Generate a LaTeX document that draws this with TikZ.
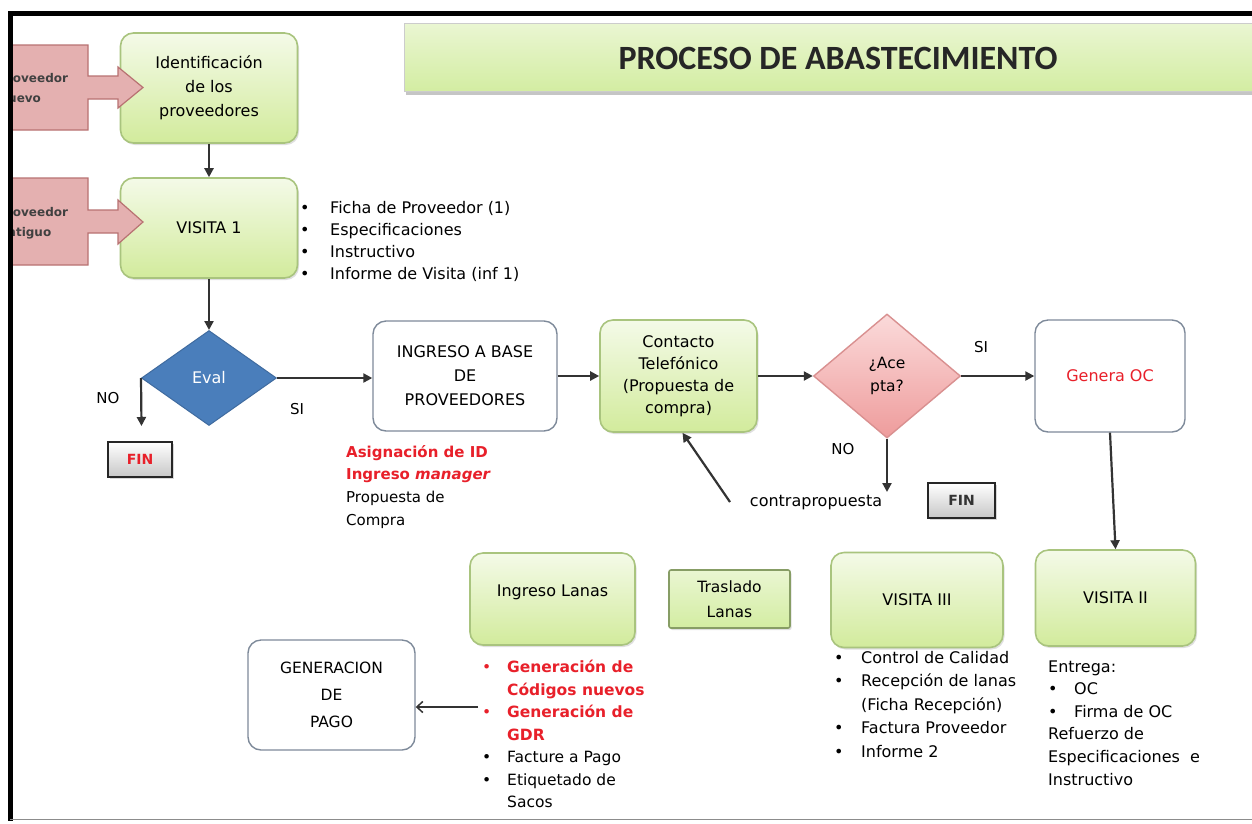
\documentclass[tikz,border=0pt]{standalone}
\usepackage{fontspec}
\setmainfont{DejaVu Sans}
\newfontfamily\titlefont{Carlito}
\usetikzlibrary{shapes.geometric,arrows.meta,shadows}

\definecolor{gTop}{HTML}{F4FAE8}
\definecolor{gBot}{HTML}{D2EB9C}
\definecolor{gLine}{HTML}{A9C47E}
\definecolor{tTop}{HTML}{EAF6D2}
\definecolor{tBot}{HTML}{D3EDA2}
\definecolor{boxLine}{HTML}{7E8A9A}
\definecolor{evalBlue}{HTML}{4A7EBB}
\definecolor{pinkTop}{HTML}{FBDADA}
\definecolor{pinkBot}{HTML}{EE9C9C}
\definecolor{pinkLine}{HTML}{D99090}
\definecolor{roseFill}{HTML}{E4B0B0}
\definecolor{roseLine}{HTML}{B87272}
\definecolor{redTxt}{HTML}{E8202A}
\definecolor{arrowGray}{HTML}{333333}

\newcommand\txtfs{\fontsize{16}{24}\selectfont}

\tikzset{
  greenbox/.style={draw=gLine, line width=1.6pt, rounded corners=13pt,
    top color=gTop, bottom color=gBot, align=center, inner sep=2pt,
    font=\txtfs, drop shadow={shadow xshift=1.5pt, shadow yshift=-2pt, opacity=0.25}},
  whitebox/.style={draw=boxLine, line width=1.4pt, rounded corners=13pt,
    fill=white, align=center, inner sep=2pt, font=\txtfs},
  trasbox/.style={draw=gLine!80!black, line width=1.6pt, rounded corners=2pt,
    top color=tTop, bottom color=tBot, align=center, inner sep=2pt,
    font=\fontsize{15.5}{25}\selectfont,
    drop shadow={shadow xshift=1.5pt, shadow yshift=-2pt, opacity=0.25}},
  titlebox/.style={draw=black!20, line width=1pt, top color=tTop, bottom color=tBot,
    drop shadow={shadow xshift=1pt, shadow yshift=-3pt, opacity=0.45}},
  evaldiamond/.style={diamond, fill=evalBlue, draw=evalBlue!85!black, line width=1pt,
    text=white, inner sep=0pt, font=\txtfs},
  acepdiamond/.style={diamond, top color=pinkTop, bottom color=pinkBot, draw=pinkLine,
    line width=1.4pt, inner sep=0pt, align=center, font=\fontsize{15.5}{23}\selectfont},
  finbox/.style={draw=black!85, line width=2pt, top color=white, bottom color=black!22,
    font=\fontsize{14}{16}\selectfont\bfseries,
    drop shadow={shadow xshift=1.5pt, shadow yshift=-1.5pt, opacity=0.3}},
  pinkarrow/.style={fill=roseFill, draw=roseLine, line width=1.2pt},
  lbl/.style={font=\fontsize{15}{18}\selectfont, inner sep=0pt},
  notes/.style={anchor=north west, inner sep=0pt},
  conn/.style={draw=arrowGray, line width=2.2pt, -{Triangle[length=9pt,width=9pt]}},
  thinconn/.style={draw=arrowGray, line width=1.5pt, -{Straight Barb[length=6pt,width=11pt]}},
}

\begin{document}
\begin{tikzpicture}[x=1pt, y=-1pt]
\useasboundingbox (0,0) rectangle (1252,823);
\fill[white] (0,0) rectangle (1252,823);

% title banner
\node[titlebox, minimum width=862, minimum height=68, anchor=north west] (title) at (404,23) {};
\node[font=\titlefont\bfseries\fontsize{34}{40}\selectfont, text=black!85] (titletext) at (838,58) {PROCESO DE ABASTECIMIENTO};

% upper column
\node[greenbox, minimum width=177, minimum height=110] (ident) at (209,88) {Identificación\\de los\\proveedores};
\node[greenbox, minimum width=177, minimum height=100] (visita1) at (209,228) {VISITA 1};
\node[notes, font=\fontsize{16}{22}\selectfont] (v1notes) at (300,198) {%
  \begin{tabular}{@{}p{30pt}@{}l@{}}
  \textbullet & Ficha de Proveedor (1)\\
  \textbullet & Especificaciones\\
  \textbullet & Instructivo\\
  \textbullet & Informe de Visita (inf 1)
  \end{tabular}};

% evaluation
\node[evaldiamond, minimum width=135, minimum height=95] (eval) at (209,378) {Eval};
\node[finbox, minimum width=64, minimum height=35, text=redTxt] (fin1) at (140,459.5) {FIN};
\coordinate (noEval) at (141.5,426);
\node[lbl] (noA) at (108,398) {NO};
\node[lbl] (siA) at (297,409) {SI};

% middle row
\node[whitebox, minimum width=184, minimum height=110] (ingreso) at (465,376) {INGRESO A BASE\\DE\\PROVEEDORES};
\node[notes, font=\fontsize{15}{22.7}\selectfont] (ingnotes) at (346,441) {%
  \begin{tabular}{@{}l@{}}
  \textcolor{redTxt}{\bfseries Asignación de ID}\\
  \textcolor{redTxt}{\bfseries Ingreso \itshape manager}\\
  Propuesta de\\
  Compra
  \end{tabular}};
\node[greenbox, minimum width=157, minimum height=112, font=\fontsize{16}{22}\selectfont] (contacto) at (678.5,376) {Contacto\\Telefónico\\(Propuesta de\\compra)};
\node[acepdiamond, minimum width=147, minimum height=124] (acepta) at (887,376) {¿Ace\\pta?};
\node[whitebox, minimum width=150, minimum height=112, text=redTxt] (genera) at (1110,376) {Genera OC};
\node[lbl] (siB) at (981,347) {SI};
\node[lbl] (noB) at (843,449) {NO};
\coordinate (noAce) at (887,492);
\node[finbox, minimum width=67, minimum height=35, text=black!80] (fin2) at (961.5,500.5) {FIN};
\node[lbl, font=\fontsize{16}{18}\selectfont] (cp) at (816,503) {contrapropuesta};
\coordinate (cpStart) at (730,502);

% lower row
\node[greenbox, minimum width=160, minimum height=96] (visita2) at (1115.5,598) {VISITA II};
\node[greenbox, minimum width=172, minimum height=95] (visita3) at (917,600) {VISITA III};
\node[trasbox, minimum width=121, minimum height=58] (traslado) at (729.5,599) {Traslado\\Lanas};
\node[greenbox, minimum width=165, minimum height=92] (lanas) at (552.5,599) {\raisebox{7pt}[\height][\depth]{Ingreso Lanas}};
\node[whitebox, minimum width=167, minimum height=110, font=\fontsize{15.5}{27}\selectfont] (pago) at (331.5,695) {GENERACION\\DE\\PAGO};

\node[notes, font=\fontsize{16}{23.5}\selectfont] (v3notes) at (834,646.5) {%
  \begin{tabular}{@{}p{27pt}@{}l@{}}
  \textbullet & Control de Calidad\\
  \textbullet & Recepción de lanas\\
   & (Ficha Recepción)\\
  \textbullet & Factura Proveedor\\
  \textbullet & Informe 2
  \end{tabular}};
\node[notes, font=\fontsize{16}{22.6}\selectfont] (v2notes) at (1048,656) {%
  \begin{tabular}{@{}p{26pt}@{}l@{}}
  \multicolumn{2}{@{}l@{}}{Entrega:}\\
  \textbullet & OC\\
  \textbullet & Firma de OC\\
  \multicolumn{2}{@{}l@{}}{Refuerzo de}\\
  \multicolumn{2}{@{}l@{}}{Especificaciones\ \ e}\\
  \multicolumn{2}{@{}l@{}}{Instructivo}
  \end{tabular}};
\node[notes, font=\fontsize{15.5}{22.5}\selectfont] (lanasnotes) at (482,657) {%
  \begin{tabular}{@{}p{25pt}@{}l@{}}
  \textcolor{redTxt}{\textbullet} & \textcolor{redTxt}{\bfseries Generación de}\\
   & \textcolor{redTxt}{\bfseries Códigos nuevos}\\
  \textcolor{redTxt}{\textbullet} & \textcolor{redTxt}{\bfseries Generación de}\\
   & \textcolor{redTxt}{\bfseries GDR}\\
  \textbullet & Facture a Pago\\
  \textbullet & Etiquetado de\\
   & Sacos
  \end{tabular}};
\coordinate (lanasArr) at (478,707);

% connectors
\draw[conn] (ident) -- (visita1);
\draw[conn] (visita1) -- (eval);
\draw[conn] (eval.west) -- (noEval);
\draw[conn] (eval.east) -- (eval.east -| ingreso.west);
\draw[conn] (ingreso.east) -- (ingreso.east -| contacto.west);
\draw[conn] (contacto.east) -- (acepta.west);
\draw[conn] (acepta.east) -- (genera.west);
\draw[conn] (acepta.south) -- (noAce);
\draw[conn] (genera.south) -- (visita2.north);
\draw[conn] (cpStart) -- ([xshift=4pt]contacto.south);
\draw[thinconn] (lanasArr) -- (lanasArr -| pago.east);

% supplier entry arrows, cut by the frame
\begin{scope}
  \clip (11,0) rectangle (1252,823);
  \draw[pinkarrow] (-20,45) -- (88,45) -- (88,76) -- (118,76) -- (118,67) -- (143,87.5)
    -- (118,108) -- (118,99) -- (88,99) -- (88,130) -- (-20,130) -- cycle;
  \node[anchor=west, align=left, inner sep=0pt, font=\fontsize{12}{20}\selectfont\bfseries, text=black!75] (pnuevo) at (-2,88) {Proveedor\\Nuevo};
  \draw[pinkarrow] (-20,178) -- (88,178) -- (88,210) -- (118,210) -- (118,200) -- (143,222)
    -- (118,244) -- (118,233) -- (88,233) -- (88,265) -- (-20,265) -- cycle;
  \node[anchor=west, align=left, inner sep=0pt, font=\fontsize{12}{20}\selectfont\bfseries, text=black!75] (pantiguo) at (-2,223) {Proveedor\\Antiguo};
\end{scope}

% frame
\draw[line width=5pt] (8,13) -- (1252,13);
\draw[line width=5pt] (10.5,11) -- (10.5,821);
\draw[black!45, line width=1.5pt] (10,819.5) -- (1252,819.5);
\end{tikzpicture}
\end{document}
